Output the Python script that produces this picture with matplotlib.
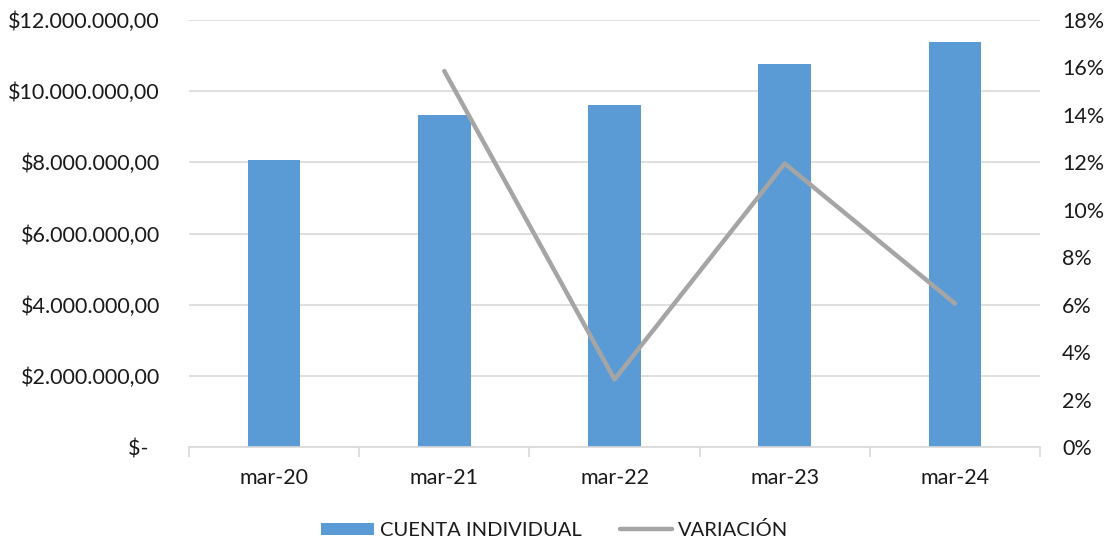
import matplotlib.pyplot as plt
import numpy as np
from matplotlib.ticker import FuncFormatter, MultipleLocator

plt.rcParams['font.family'] = ['Lato', 'DejaVu Sans']

periodos = ['mar-20', 'mar-21', 'mar-22', 'mar-23', 'mar-24']
cuenta_individual = [8070000, 9330000, 9610000, 10760000, 11380000]
variacion = [np.nan, 15.85, 2.85, 11.95, 6.05]

bar_color = '#5b9bd5'
line_color = '#a5a5a5'
grid_color = '#d9d9d9'
text_color = '#1a1a1a'

fig = plt.figure(figsize=(11.1, 5.45), dpi=100)
ax = fig.add_axes([189 / 1110, 1 - 447 / 545, (1040 - 189) / 1110, (447 - 20) / 545])
x = np.arange(len(periodos))

ax.bar(x, cuenta_individual, width=0.31, color=bar_color, zorder=2,
       label='CUENTA INDIVIDUAL')
ax.set_xlim(-0.5, len(periodos) - 0.5)
ax.set_ylim(0, 12000000)
ax.yaxis.set_major_locator(MultipleLocator(2000000))


def pesos(v, pos):
    if v == 0:
        return '$-  '
    s = f'{v:,.2f}'.replace(',', 'X').replace('.', ',').replace('X', '.')
    return '$' + s


ax.yaxis.set_major_formatter(FuncFormatter(pesos))
ax.grid(axis='y', color=grid_color, linewidth=1.2, zorder=0)
ax.set_axisbelow(True)
for side in ['left', 'right', 'top']:
    ax.spines[side].set_visible(False)
ax.spines['bottom'].set_color(grid_color)
ax.spines['bottom'].set_linewidth(1.2)

ax.set_xticks(x)
ax.set_xticklabels(periodos)
ax.set_xticks(np.arange(-0.5, len(periodos), 1), minor=True)
ax.tick_params(axis='x', which='major', length=0, pad=15, labelsize=15.5, labelcolor=text_color)
ax.tick_params(axis='x', which='minor', length=7, width=1.2, color=grid_color)
ax.tick_params(axis='y', length=0, pad=21, labelsize=15.5, labelcolor=text_color)

ax2 = ax.twinx()
ax2.plot(x, variacion, color=line_color, linewidth=3.2, zorder=3,
         solid_capstyle='round', label='VARIACIÓN')
ax2.set_ylim(0, 18)
ax2.yaxis.set_major_locator(MultipleLocator(2))
ax2.yaxis.set_major_formatter(FuncFormatter(lambda v, p: f'{v:.0f}%'))
ax2.tick_params(axis='y', length=0, pad=16, labelsize=15.5, labelcolor=text_color)
for side in ['left', 'right', 'top', 'bottom']:
    ax2.spines[side].set_visible(False)

h1, l1 = ax.get_legend_handles_labels()
h2, l2 = ax2.get_legend_handles_labels()
fig.legend(h1 + h2, l1 + l2, loc='center', bbox_to_anchor=(0.5, 1 - 530 / 545),
           ncol=2, frameon=False, fontsize=14.5, handlelength=2.6, handleheight=0.6,
           handletextpad=0.3, columnspacing=1.9, labelcolor=text_color)

fig.savefig('out.png', dpi=100, facecolor='white')
